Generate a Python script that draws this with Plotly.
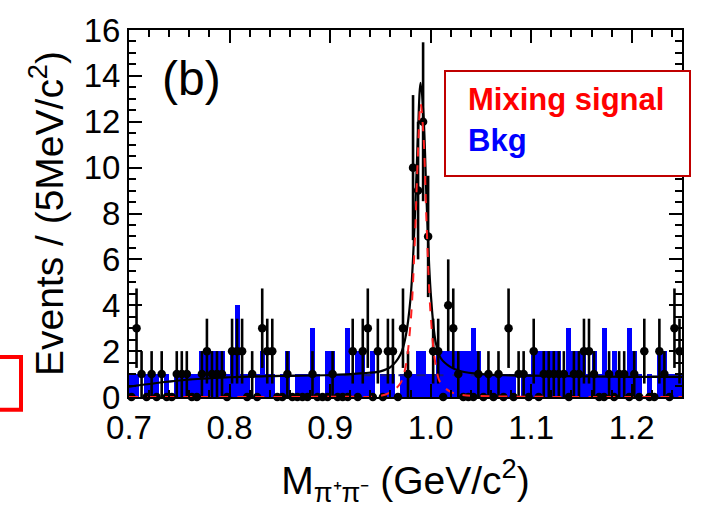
import numpy as np
import plotly.graph_objects as go

# ---- data (5 MeV bins, 0.70 - 1.25 GeV) ----
bin_width = 0.005
bin_lo = 0.70
n_bins = 110
bin_centers = [round(bin_lo + bin_width * (i + 0.5), 4) for i in range(n_bins)]

data_counts = [
    0, 3, 1, 0, 1, 0, 1, 0, 0, 1,
    1, 1, 0, 0, 1, 2, 1, 1, 1, 0,
    2, 2, 2, 0, 1, 0, 3, 2, 2, 0,
    0, 1, 0, 0, 0, 0, 1, 0, 0, 0,
    1, 0, 0, 0, 2, 0, 2, 3, 0, 2,
    0, 2, 2, 0, 3, 1, 10, 9, 12, 7,
    2, 2, 0, 4, 3, 1, 0, 0, 0, 1,
    0, 1, 0, 1, 0, 3, 0, 1, 1, 0,
    2, 0, 1, 1, 1, 1, 1, 0, 1, 1,
    2, 2, 1, 0, 0, 1, 0, 1, 1, 0,
    1, 0, 2, 0, 0, 2, 1, 0, 3, 2,
]

bkg_counts = [
    1, 1, 0, 1, 1, 1, 0, 1, 0, 1,
    1, 1, 1, 1, 2, 2, 2, 2, 2, 1,
    2, 4, 1, 1, 0, 1, 2, 1, 1, 0,
    1, 2, 0, 1, 1, 1, 3, 1, 0, 2,
    2, 1, 1, 3, 1, 2, 2, 1, 2, 0,
    1, 1, 1, 0, 1, 1, 1, 2, 2, 1,
    1, 2, 2, 2, 2, 2, 2, 2, 3, 2,
    1, 1, 1, 1, 1, 1, 1, 0, 1, 1,
    2, 2, 2, 2, 2, 2, 1, 3, 2, 2,
    2, 1, 2, 1, 3, 1, 2, 1, 1, 3,
    2, 1, 0, 1, 0, 2, 2, 1, 1, 1,
]

# fit curves, points
total_x = [0.70, 0.75, 0.80, 0.85, 0.90, 0.93, 0.95, 0.96, 0.97, 0.975, 0.98, 0.984,
           0.987, 0.990, 0.993, 0.996, 1.000, 1.005, 1.010, 1.020, 1.030, 1.050,
           1.100, 1.150, 1.200, 1.250]
total_y = [0.45, 0.72, 0.86, 0.92, 0.96, 1.03, 1.12, 1.3, 1.85, 2.6, 4.3, 7.5,
           11.0, 13.7, 12.2, 8.5, 4.6, 2.4, 1.7, 1.3, 1.12, 1.0,
           0.93, 0.9, 0.88, 0.88]

bkgfit_x = [0.70, 0.75, 0.80, 0.90, 1.00, 1.10, 1.20, 1.25]
bkgfit_y = [0.45, 0.72, 0.86, 0.94, 0.95, 0.93, 0.9, 0.9]

sig_x = [0.70, 0.90, 0.95, 0.96, 0.97, 0.975, 0.98, 0.984, 0.987, 0.990, 0.993,
         0.996, 1.000, 1.005, 1.010, 1.020, 1.030, 1.050, 1.100, 1.250]
sig_y = [0.0, 0.01, 0.05, 0.2, 0.6, 1.3, 3.2, 6.5, 10.2, 12.8, 11.3,
         7.5, 3.6, 1.4, 0.6, 0.22, 0.1, 0.04, 0.01, 0.0]

x_ticks = [0.7, 0.8, 0.9, 1.0, 1.1, 1.2]
x_tick_labels = ["0.7", "0.8", "0.9", "1.0", "1.1", "1.2"]
y_ticks = [0, 2, 4, 6, 8, 10, 12, 14, 16]

# ---- figure ----
err = [float(np.sqrt(c)) for c in data_counts]
xerr = [bin_width / 2] * n_bins

fig = go.Figure()

fig.add_trace(go.Bar(
    x=bin_centers, y=bkg_counts, width=bin_width,
    marker=dict(color="#0000FF", line=dict(width=0)),
    showlegend=False,
))

fig.add_trace(go.Scatter(
    x=bkgfit_x, y=bkgfit_y, mode="lines", line=dict(color="#1a1a80", width=2, dash="dash", shape="spline"),
    showlegend=False,
))

fig.add_trace(go.Scatter(
    x=total_x, y=total_y, mode="lines", line=dict(color="black", width=2.2, shape="spline"),
    showlegend=False,
))

fig.add_trace(go.Scatter(
    x=bin_centers, y=data_counts, mode="markers",
    marker=dict(color="black", size=8.5, symbol="circle"),
    error_y=dict(type="data", array=err, visible=True, color="black", thickness=2.6, width=0),
    error_x=dict(type="data", array=xerr, visible=True, color="black", thickness=1.5, width=0),
    cliponaxis=False,
    showlegend=False,
))

fig.add_trace(go.Scatter(
    x=sig_x, y=sig_y, mode="lines", line=dict(color="#FF2020", width=2, dash="dash", shape="spline"),
    showlegend=False,
))

FONT = "Liberation Sans, Arial, sans-serif"
tick_font = dict(family=FONT, size=33, color="black")
title_font = dict(family=FONT, size=39, color="black")

T, B, L, R = 20, 397, 129, 682
PW, PH = R - L, B - T

fig.update_layout(
    width=705, height=512,
    margin=dict(l=L, r=705 - R, t=T, b=512 - B),
    plot_bgcolor="white", paper_bgcolor="white",
    bargap=0,
    font=tick_font,
    xaxis=dict(
        range=[0.7, 1.25], tickmode="array", tickvals=x_ticks, ticktext=x_tick_labels,
        ticks="inside", ticklen=13, tickwidth=1.5, tickcolor="black",
        minor=dict(dtick=0.02, ticks="inside", ticklen=7, tickwidth=1.5, tickcolor="black"),
        showline=True, linecolor="black", linewidth=2, mirror="ticks",
        showgrid=False, zeroline=False,
        tickfont=tick_font,
        title=dict(text="M<sub>π⁺π⁻</sub> (GeV/c<sup>2</sup>)", font=title_font, standoff=22),
    ),
    yaxis=dict(
        range=[0, 16], tickmode="array", tickvals=y_ticks,
        ticks="inside", ticklen=13, tickwidth=1.5, tickcolor="black",
        minor=dict(dtick=0.5, ticks="inside", ticklen=7, tickwidth=1.5, tickcolor="black"),
        showline=True, linecolor="black", linewidth=2, mirror="ticks",
        showgrid=False, zeroline=False,
        tickfont=tick_font,
        title=dict(text="Events / (5MeV/c<sup>2</sup>)", font=title_font, standoff=8),
    ),
)


def px(xp):
    return (xp - L) / PW


def py(yp):
    return (B - yp) / PH


# panel label
fig.add_annotation(x=px(160), y=py(70), xref="paper", yref="paper", text="(b)",
                   showarrow=False, xanchor="left", yanchor="middle",
                   font=dict(family=FONT, size=48, color="black"))

# legend box
fig.add_shape(type="rect", xref="paper", yref="paper",
              x0=px(445), x1=px(690), y0=py(170), y1=py(62),
              line=dict(color="#C00000", width=2), fillcolor="white", layer="above")
fig.add_annotation(x=px(466), y=py(91), xref="paper", yref="paper",
                   text="<b>Mixing signal</b>", showarrow=False, xanchor="left", yanchor="middle",
                   font=dict(family=FONT, size=31, color="#FF0000"))
fig.add_annotation(x=px(466), y=py(134), xref="paper", yref="paper",
                   text="<b>Bkg</b>", showarrow=False, xanchor="left", yanchor="middle",
                   font=dict(family=FONT, size=31, color="#0000FF"))

# red bracket at the left edge
fig.add_shape(type="rect", xref="paper", yref="paper",
              x0=px(-10), x1=px(21), y0=py(410), y1=py(356),
              line=dict(color="#FF0000", width=4), fillcolor="rgba(0,0,0,0)")

fig.write_html("out.html")
